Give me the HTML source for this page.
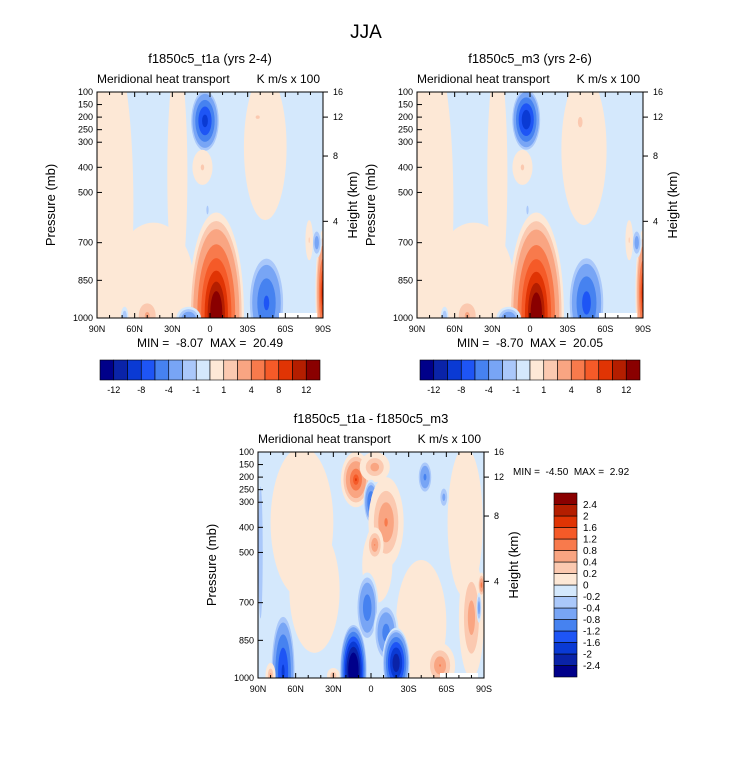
<!DOCTYPE html>
<html><head><meta charset="utf-8"><style>
body{margin:0;background:#fff;}
svg text{font-family:"Liberation Sans",sans-serif;fill:#000;white-space:pre;}
</style></head><body>
<svg id="fig" width="733" height="774" xmlns="http://www.w3.org/2000/svg">
<text x="366" y="38" font-size="19" text-anchor="middle">JJA</text>
</svg>
<script>
// contour levels & colours
const levelsMain = [-12,-10,-8,-6,-4,-2,-1,0,1,2,4,6,8,10,12];
const levelsDiff = [-2.4,-2,-1.6,-1.2,-0.8,-0.4,-0.2,0,0.2,0.4,0.8,1.2,1.6,2,2.4];
const labelsMain = ["-12","-8","-4","-1","1","4","8","12"];
const bandColors = ["#00008a","#0a23a8","#0a3ad4","#1e55f5","#4682f0","#78a5f5","#aac8fa","#d4e8fc","#fde8d6","#fbc9b0","#f9a582","#f87a4c","#f55a28","#e03404","#b41e00","#8a0000"];
const xTicks = ["90N","60N","30N","0","30S","60S","90S"];
const pTicks = [100,150,200,250,300,400,500,700,850,1000];
const hTicks = [16,12,8,4];
const hTickP = [100,200,355,615];
// blobs: [lat, pressure, radius-lat(deg), radius-p(mb), peak value]
const blobs1 = [[78,550,17,620,0.9],[26,430,8,460,0.9],[-44,320,17,290,0.9],[45,860,32,240,0.9],
 [4,215,12,130,-9],[6,400,8,70,1.6],[-38,200,7,30,1.8],[2,570,2,40,-1.5],
 [-5,980,22,400,21],[-45,940,15,200,-6.5],[17,1005,10,50,-4],[-90,900,6,250,14],
 [50,990,14,100,3],[68,995,3,40,-2],[-85,700,4,60,-3],[-79,690,3,80,1.5]];
const blobs2 = [[78,550,17,620,0.9],[26,430,8,460,0.9],[-43,330,18,300,0.9],[45,860,32,240,0.9],
 [3,210,12,130,-10],[6,400,8,70,1.6],[-40,220,8,90,1.8],[2,570,2,40,-1.5],
 [-5,980,22,400,20.5],[-45,940,15,200,-7],[17,1005,10,50,-4],[-90,900,6,250,13],
 [50,990,14,100,3],[68,995,3,40,-2],[-85,700,4,60,-3],[-79,690,3,80,1.5]];
const blobsD = [[55,380,25,300,0.15],[45,650,20,250,0.15],[88,500,4,600,-0.3],[-75,380,14,300,0.15],
 [-40,780,20,250,0.15],[-5,550,12,150,0.15],
 [12,210,12,110,2.0],[-3,160,12,60,0.8],[0,300,6,90,-1.3],[-12,380,14,180,1.1],[-3,470,7,70,1.0],
 [-43,200,6,70,-0.9],[-58,280,4,50,-0.5],[3,720,9,140,-1.1],[-12,820,10,120,-1.0],
 [14,970,11,190,-3.3],[-20,940,11,140,-2.4],[70,975,10,240,-1.7],[80,990,4,50,0.7],[30,990,5,30,0.6],
 [-55,950,12,90,1.0],[-80,760,10,240,0.8],[-88,630,3,50,1.4],[-86,720,2,60,-0.6]];

const svg = document.getElementById('fig');
const NS = 'http://www.w3.org/2000/svg';
function mk(tag, attrs, parent){const e=document.createElementNS(NS,tag);for(const k in attrs)e.setAttribute(k,attrs[k]);(parent||svg).appendChild(e);return e;}
function txt(s,x,y,size,anchor,parent){const t=mk('text',{x:x,y:y,'font-size':size,'text-anchor':anchor||'start'},parent);t.textContent=s;return t;}

let clipId=0;
function panel(ox,oy,blobs,levels,title,name){
  const W=226,H=226;
  const X=lat=>ox+(90-lat)/180*W, Y=p=>oy+(p-100)/900*H;
  const g=mk('g',{});
  
  
  const cid='c'+(clipId++);
  const cp=mk('clipPath',{id:cid},g); mk('rect',{x:ox,y:oy,width:W,height:H},cp);
  const fld=mk('g',{'clip-path':'url(#'+cid+')'},g);
  
  
  mk('rect',{x:ox,y:oy,width:W,height:H,fill:bandColors[7]},fld);
  blobs.forEach(b=>{
    const [lat,p,rl,rp,v]=b;
    const ths=[];
    levels.forEach((t,i)=>{
      if(v>0 && t>=0 && t<v) ths.push([t,bandColors[i+1]]);
      if(v<0 && t<=0 && t>v) ths.push([t,bandColors[i]]);
    });
    if(v<0) ths.sort((a,b)=>b[0]-a[0]); else ths.sort((a,b)=>a[0]-b[0]);
    ths.forEach(([t,c])=>{
      const s=Math.pow(1-t/v, v>0?1.8:0.75);
      const e=mk('ellipse',{cx:X(lat),cy:Y(p),rx:rl/180*W*s,ry:rp/900*H*s,fill:c},fld);
      
      
    });
  });
  mk('rect',{x:ox+182,y:oy+221,width:38,height:6,fill:'#fff'},fld);
  mk('rect',{x:ox,y:oy,width:W,height:H,fill:'none',stroke:'#000','stroke-width':1},g);
  xTicks.forEach((s,i)=>{const x=ox+i*W/6;mk('line',{x1:x,y1:oy+H,x2:x,y2:oy+H-5,stroke:'#000'},g);mk('line',{x1:x,y1:oy,x2:x,y2:oy+5,stroke:'#000'},g);txt(s,x,oy+H+14,9,'middle',g);});
  for(let i=1;i<18;i++){if(i%3){const x=ox+i*W/18;mk('line',{x1:x,y1:oy+H,x2:x,y2:oy+H-3,stroke:'#000'},g);mk('line',{x1:x,y1:oy,x2:x,y2:oy+3,stroke:'#000'},g);}}
  pTicks.forEach(p=>{const y=Y(p);mk('line',{x1:ox,y1:y,x2:ox+5,y2:y,stroke:'#000'},g);txt(String(p),ox-4,y+3,9,'end',g);});
  hTicks.forEach((h,i)=>{const y=Y(hTickP[i]);mk('line',{x1:ox+W,y1:y,x2:ox+W+5,y2:y,stroke:'#000'},g);txt(String(h),ox+W+10,y+3,9,'start',g);});
  txt('Meridional heat transport',ox,oy-9,12,'start',g);
  txt('K m/s x 100',ox+W-3,oy-9,12,'end',g);
  txt(title,ox+W/2,oy-29,13,'middle',g);
  const yt=txt('Pressure (mb)',0,0,13,'middle',g);yt.setAttribute('transform','translate('+(ox-42)+','+(oy+H/2)+') rotate(-90)');
  const ht=txt('Height (km)',0,0,13,'middle',g);ht.setAttribute('transform','translate('+(ox+W+34)+','+(oy+H/2)+') rotate(-90)');
  return g;
}
function hbar(x0,y0){
  const g=mk('g',{});
  
  
  const w=220/16;
  bandColors.forEach((c,i)=>mk('rect',{x:x0+i*w,y:y0,width:w,height:20,fill:c,stroke:'#000','stroke-width':0.6},g));
  labelsMain.forEach((s,i)=>txt(s,x0+(2*i+1)*w,y0+33,9,'middle',g));
}
panel(97,92,blobs1,levelsMain,'f1850c5_t1a (yrs 2-4)','panel-t1a');
txt('MIN =  -8.07  MAX =  20.49',210,347,12,'middle');
hbar(100,360);
panel(417,92,blobs2,levelsMain,'f1850c5_m3 (yrs 2-6)','panel-m3');
txt('MIN =  -8.70  MAX =  20.05',530,347,12,'middle');
hbar(420,360);
panel(258,452,blobsD,levelsDiff,'f1850c5_t1a - f1850c5_m3','panel-diff');
txt('MIN =  -4.50  MAX =  2.92',513,475,10,'start');
(function(){
  const g=mk('g',{});
  
  
  const x0=554,y0=493,h=184/16;
  bandColors.forEach((c,i)=>mk('rect',{x:x0,y:y0+(15-i)*h,width:23,height:h,fill:c,stroke:'#000','stroke-width':0.6},g));
  levelsDiff.forEach((v,i)=>txt(String(v),x0+29,y0+(15-i)*h+3.5,10,'start',g));
})();
</script>
</body></html>
